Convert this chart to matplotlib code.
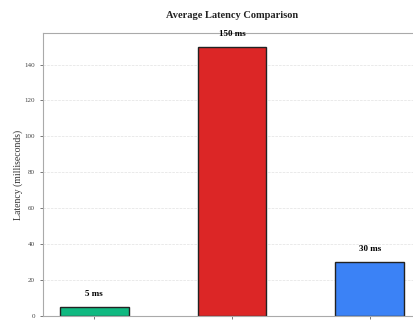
import matplotlib.pyplot as plt

# data
methods = ['Method A', 'Method B', 'Method C']
latency = [5, 150, 30]
colors = ['#10b981', '#dc2626', '#3b82f6']

plt.rcParams['font.family'] = ['Liberation Serif', 'DejaVu Serif']

fig = plt.figure(figsize=(4.14, 3.2), dpi=100)
ax = fig.add_axes([0.103, 0.0125, 0.915, 0.884])

bars = ax.bar(methods, latency, width=0.5, color=colors,
              edgecolor='#222222', linewidth=1.0)
for b, v in zip(bars, latency):
    ax.text(b.get_x() + b.get_width() / 2, v + 5, '%d ms' % v,
            ha='center', va='bottom', fontsize=6.5, fontweight='bold')

ax.set_ylim(0, 157.5)
ax.set_xlim(-0.375, 2.375)
ax.set_yticks(range(0, 141, 20))
ax.tick_params(axis='y', labelsize=5, length=2, width=0.5, colors='#444444')
# category labels fall below the visible area
ax.tick_params(axis='x', length=2, width=0.5, colors='#444444', labelbottom=False)
ax.set_ylabel('Latency (milliseconds)', fontsize=7, color='#333333', labelpad=1)
ax.yaxis.grid(True, linestyle='--', color='#e2e2e2', linewidth=0.5)
ax.set_axisbelow(True)
for s in ax.spines.values():
    s.set_color('#aaaaaa')
    s.set_linewidth(0.8)

fig.text(0.56, 0.953, 'Average Latency Comparison', ha='center', va='center',
         fontsize=7.5, fontweight='bold', color='#222222')

fig.savefig('out.png', dpi=100)
